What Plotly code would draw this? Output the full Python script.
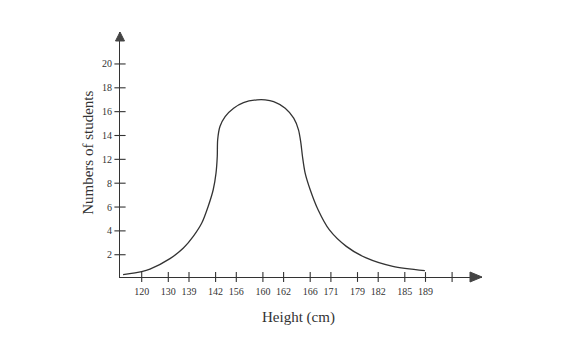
import numpy as np
import plotly.graph_objects as go

# ---- data ----
height_labels = ['120', '130', '139', '142', '156', '160', '162', '166',
                 '171', '179', '182', '185', '189', '']
student_labels = [2, 4, 6, 8, 12, 14, 16, 18, 20]

# curve: x as fractional position along the height ticks (0 = "120"), y = number of students
curve_pos = [-0.70, 0.00, 0.31, 1.08, 1.73, 2.16, 2.48, 2.72, 2.91, 3.02, 3.08,
             3.10, 3.21, 3.46, 3.87, 4.27, 4.78, 5.11, 5.52, 6.06, 6.38, 6.56,
             6.65, 6.71, 6.81, 7.00, 7.38, 7.92, 8.58, 9.42, 10.55, 11.97]
curve_students = [0.33, 0.58, 0.79, 1.67, 2.56, 3.54, 4.66, 6.05, 7.45, 9.69, 12.24,
                  13.64, 14.75, 15.59, 16.29, 16.76, 16.99, 16.99, 16.84, 16.29, 15.45, 14.47,
                  13.36, 12.24, 9.69, 7.45, 5.77, 4.10, 2.70, 1.73, 1.02, 0.66]

# ---- axis geometry (layout) ----
W, H = 583, 356
OFF = 8  # page body margin
AX_X, AX_Y, TOP, RIGHT = 120, 277.3, 32, 482  # page pixel positions of the axes
L = AX_X - OFF
T = TOP - OFF
R = W - (RIGHT - OFF)
B = H - (AX_Y - OFF)
pw, ph = RIGHT - AX_X, AX_Y - TOP
tick_x = [21.7 + 47.3 * (i // 2) + 26.6 * (i % 2) for i in range(len(height_labels))]

def pos_to_x(p):
    p = np.asarray(p, dtype=float)
    idx = np.arange(len(tick_x))
    out = np.interp(p, idx, tick_x)
    lo = p < 0
    out[lo] = tick_x[0] + p[lo] * (tick_x[1] - tick_x[0])
    return out

slot_counts = [0] + student_labels
slot_idx = list(range(len(slot_counts)))

def count_to_slot(c):
    return np.interp(c, slot_counts, slot_idx)

px_per_slot = 23.875
y0 = 0.066
y1 = y0 + ph / px_per_slot

ink = '#333333'
serif = 'Liberation Serif, Times New Roman, serif'

fig = go.Figure()
fig.add_trace(go.Scatter(
    x=pos_to_x(curve_pos), y=count_to_slot(curve_students),
    mode='lines', line=dict(color=ink, width=1.3, shape='spline', smoothing=0.8),
    hoverinfo='skip', showlegend=False))

# crossing tick marks
fig.add_trace(go.Scatter(
    x=tick_x, y=[y0] * len(tick_x), mode='markers', cliponaxis=False,
    marker=dict(symbol='line-ns', size=7, line=dict(color=ink, width=1.1)),
    hoverinfo='skip', showlegend=False))
fig.add_trace(go.Scatter(
    x=[0] * len(student_labels), y=list(range(1, len(student_labels) + 1)),
    mode='markers', cliponaxis=False,
    marker=dict(symbol='line-ew', size=8, line=dict(color=ink, width=1.1)),
    hoverinfo='skip', showlegend=False))

fig.update_xaxes(range=[0, pw], showline=True, linecolor=ink, linewidth=1.2,
                 showgrid=False, zeroline=False, ticks='',
                 tickvals=tick_x, ticktext=height_labels,
                 tickfont=dict(family=serif, size=10, color=ink),
                 ticklabelstandoff=5)
fig.update_yaxes(range=[y0, y1], showline=True, linecolor=ink, linewidth=1.2,
                 showgrid=False, zeroline=False, ticks='',
                 tickvals=list(range(1, len(student_labels) + 1)),
                 ticktext=[str(v) for v in student_labels],
                 tickfont=dict(family=serif, size=10, color=ink),
                 ticklabelstandoff=5)

# arrowheads
ax_b = (pw - 12) / pw
ah = 5 / ph
ay_b = (ph - 9) / ph
aw = 4.5 / pw
fig.add_shape(type='path', xref='paper', yref='paper',
              path=f'M {ax_b},{-ah} L 1,0 L {ax_b},{ah} Z',
              fillcolor='#444444', line=dict(color='#444444', width=1))
fig.add_shape(type='path', xref='paper', yref='paper',
              path=f'M {-aw},{ay_b} L 0,1 L {aw},{ay_b} Z',
              fillcolor='#444444', line=dict(color='#444444', width=1))

fig.add_annotation(text='Height (cm)', xref='paper', yref='paper',
                   x=(298 - AX_X) / pw, y=(AX_Y - 318) / ph, showarrow=False,
                   xanchor='center', yanchor='middle',
                   font=dict(family=serif, size=15, color=ink))
fig.add_annotation(text='Numbers of students', xref='paper', yref='paper',
                   x=(88 - AX_X) / pw, y=(AX_Y - 153) / ph, showarrow=False,
                   xanchor='center', yanchor='middle',
                   textangle=-90, font=dict(family=serif, size=15, color=ink))

fig.update_layout(width=W, height=H, margin=dict(l=L, r=R, t=T, b=B),
                  plot_bgcolor='white', paper_bgcolor='white')
fig.write_html('out.html')
